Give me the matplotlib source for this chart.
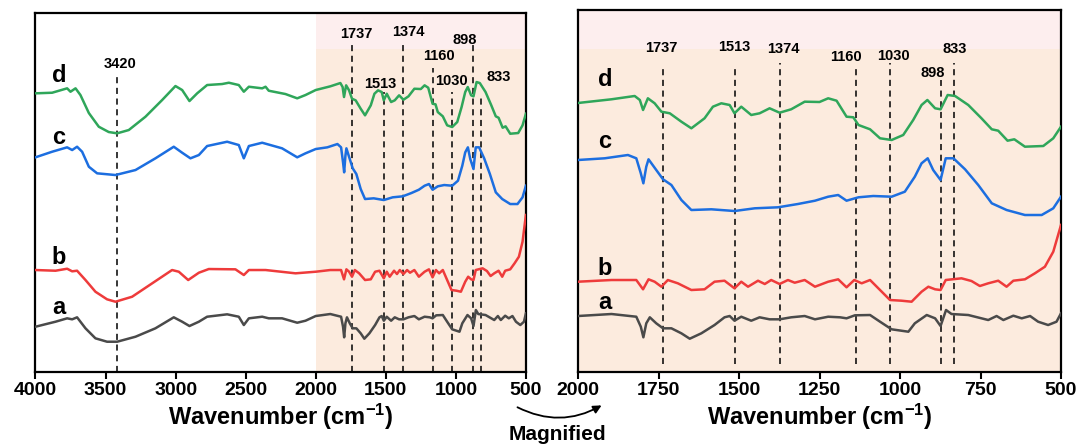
import matplotlib
matplotlib.use("Agg")
import matplotlib.pyplot as plt
from matplotlib.patches import FancyArrowPatch

plt.rcParams['font.family'] = ['Liberation Sans', 'DejaVu Sans']
plt.rcParams['font.weight'] = 'bold'
plt.rcParams['mathtext.default'] = 'regular'

# spectra, wavenumber (cm-1) and relative transmittance (arb. units, offset stacked)
wn_a = [4000, 3857, 3774, 3738, 3703, 3643, 3572, 3489, 3417, 3286, 3144, 3013, 2953, 2901, 2834,
        2775, 2632, 2549, 2513, 2477, 2382, 2335, 2240, 2132, 2073, 2000, 1896, 1819, 1805, 1797,
        1788, 1777, 1757, 1736, 1710, 1679, 1653, 1617, 1576, 1545, 1529, 1514, 1493, 1462, 1436,
        1405, 1374, 1338, 1296, 1264, 1223, 1186, 1166, 1140, 1093, 1062, 1026, 974, 954, 917,
        891, 874, 857, 840, 788, 726, 700, 679, 648, 622, 596, 571, 540, 514, 500]
t_a = [45.3, 50.3, 53.7, 52.7, 54.7, 43.7, 33.7, 30.3, 30.3, 35.3, 43.7, 54.7, 50.3, 46, 50.3,
       55.3, 57.7, 55.3, 47, 53.7, 55.3, 53.7, 53.7, 49.3, 51.3, 56, 58, 55.3, 45.3, 34.7,
       48.7, 54.7, 48.7, 43.7, 43.7, 38.7, 33.3, 38.7, 47, 54.7, 56, 51.3, 55.3, 51.3, 54.7,
       52.7, 52.7, 54.7, 56, 52.7, 55.3, 54.7, 53.7, 56.7, 57, 50.3, 42.7, 40.3, 48.7, 57,
       53.7, 46, 62, 58, 57, 52, 56, 52, 56.3, 53.7, 56, 50.3, 47, 50.3, 58.7]

wn_b = [4000, 3857, 3774, 3738, 3703, 3643, 3572, 3489, 3429, 3310, 3167, 3025, 2977, 2910, 2834,
        2763, 2573, 2513, 2477, 2358, 2144, 2000, 1896, 1819, 1798, 1781, 1762, 1741, 1721, 1690,
        1648, 1607, 1576, 1545, 1514, 1493, 1472, 1441, 1420, 1400, 1374, 1348, 1327, 1296, 1264,
        1223, 1192, 1166, 1142, 1119, 1093, 1062, 1031, 995, 964, 933, 912, 891, 874, 858,
        809, 778, 752, 726, 695, 669, 648, 612, 581, 550, 524, 500]
t_b = [102, 101.3, 103.3, 100.7, 101.3, 92, 80.3, 72.7, 70.3, 75.3, 88.7, 102, 100.3, 92, 99.3,
       103, 102.7, 97, 102, 102, 98.7, 100.3, 102, 102, 92.7, 102.7, 100.3, 95.3, 102, 98.7,
       92, 92.7, 100.3, 101.3, 93.7, 100.3, 95.3, 101.3, 98, 102, 98, 102, 99.3, 102, 95.3,
       100.3, 102.7, 94.7, 102, 98.7, 102, 92, 82, 81.3, 80.3, 90.3, 95.3, 92.7, 92, 102,
       103.7, 101, 96, 98.7, 101.3, 95.3, 101.3, 102.7, 108.7, 115.3, 130.3, 157]

wn_c = [4000, 3881, 3774, 3738, 3703, 3667, 3619, 3560, 3429, 3286, 3144, 3013, 2953, 2894, 2834,
        2775, 2632, 2549, 2513, 2477, 2382, 2240, 2132, 2073, 2000, 1917, 1845, 1819, 1805, 1797,
        1788, 1781, 1757, 1736, 1710, 1679, 1648, 1586, 1514, 1451, 1379, 1317, 1264, 1223, 1192,
        1166, 1129, 1083, 1026, 985, 954, 933, 914, 897, 874, 858, 834, 798, 757, 715,
        669, 612, 560, 524, 500]
t_c = [214.7, 220.3, 224.7, 222, 225.3, 220.3, 205.3, 198.7, 197, 202, 213.7, 225.3, 219.3, 213.7, 217,
       226, 230.3, 227, 213.7, 226, 229.3, 223.7, 214.7, 218.7, 223, 224.7, 228, 224.7, 209.7, 199.7,
       216.3, 223.7, 213, 203.7, 198, 183, 173, 173.7, 172, 174.7, 175.7, 179, 182.3, 186.3, 188,
       182.3, 185.7, 187, 186.3, 191.3, 206.3, 219.7, 224.7, 213, 203, 224.7, 224.7, 213.7, 198, 179.7,
       173, 168, 168, 174.7, 186.3]

wn_d = [4000, 3881, 3774, 3750, 3714, 3679, 3619, 3548, 3477, 3417, 3334, 3215, 3096, 3001, 2953,
        2901, 2846, 2775, 2668, 2620, 2549, 2513, 2477, 2382, 2358, 2335, 2216, 2132, 2073, 2000,
        1896, 1824, 1808, 1798, 1783, 1762, 1741, 1715, 1679, 1648, 1607, 1581, 1555, 1529, 1514,
        1493, 1462, 1436, 1405, 1374, 1338, 1296, 1250, 1223, 1197, 1166, 1145, 1129, 1093, 1062,
        1026, 990, 959, 933, 915, 891, 874, 852, 829, 788, 747, 715, 695, 666, 645,
        612, 555, 524, 500]
t_d = [278.7, 279.3, 283.7, 280.3, 283.7, 277, 259, 245.3, 240, 238.7, 242, 255.3, 272, 286, 282,
       271, 278.7, 287, 288, 289.3, 287, 280.3, 285.3, 283.7, 285.3, 281.3, 278, 273.7, 277, 282,
       285.7, 289, 285, 275, 286.7, 281.7, 273.3, 271.7, 263.3, 256.7, 266.7, 278.3, 281.7, 280, 271.7,
       278.3, 270, 271.7, 276.7, 272.3, 275.7, 283.3, 283, 286.7, 284.3, 268.3, 267.7, 260, 255.7, 246.7,
       245, 250, 265, 280, 285, 276.7, 275.7, 290, 289, 280, 266.7, 255.7, 254.3, 244.3, 245.7,
       238.3, 239, 246.7, 258.3]

names = ['a', 'b', 'c', 'd']
colors = ['#4a4a4a', '#ee3b3b', '#1c6ee0', '#2fa65a']
spectra = [(wn_a, t_a), (wn_b, t_b), (wn_c, t_c), (wn_d, t_d)]
shift_right = [0, -10, -11, -13]

# peak markers
left_peaks = [3420, 1737, 1513, 1374, 1160, 1030, 898, 833]
left_lines = [3420, 1740, 1515, 1374, 1165, 1028, 878, 822]
left_tops = [299, 330, 280, 330, 304, 280, 329, 277]
left_lab_x = [3397, 1708, 1542, 1342, 1121, 1028, 935, 693]
left_lab_y = [308, 338, 288, 340, 316, 291, 332, 295]

right_peaks = [1737, 1513, 1374, 1160, 1030, 898, 833]
right_lines = [1737, 1513, 1374, 1137, 1030, 874, 833]
right_tops = [307, 307, 309, 307, 309, 292, 309]
right_lab_x = [1742, 1515, 1363, 1168, 1019, 900, 829]
right_lab_y = [324, 325, 323, 315, 316, 299, 323]

left_letter_y = [65, 115, 235, 297]
right_letter_y = [70, 104, 230, 292]

peach = '#fcebde'
pink = '#fdeeee'

fig = plt.figure(figsize=(10.81, 4.48), dpi=100)
ax1 = fig.add_axes([0.0328, 0.1696, 0.4537, 0.8013])
ax2 = fig.add_axes([0.5347, 0.1696, 0.4468, 0.8070])

# left panel
ax1.axvspan(2000, 500, color=peach, lw=0, zorder=0)
ax1.axvspan(2000, 500, ymin=0.8997, ymax=1, color=pink, lw=0, zorder=0)
for (wn, t), c in zip(spectra, colors):
    ax1.plot(wn, t, color=c, lw=1.8, zorder=3)
ax1.vlines(left_lines, 0, left_tops, colors='black', linestyles=(0, (4, 3)), lw=1.1, zorder=2)
for p, x, y in zip(left_peaks, left_lab_x, left_lab_y):
    ax1.text(x, y, str(p), ha='center', va='center', fontsize=10.5, fontweight='bold')
for n, y in zip(names, left_letter_y):
    ax1.text(3832, y, n, ha='center', va='center', fontsize=17, fontweight='bold')
ax1.set_xlim(4000, 500)
ax1.set_ylim(0, 359)
ax1.set_xticks([4000, 3500, 3000, 2500, 2000, 1500, 1000, 500])

# right panel (magnified 2000-500 region)
ax2.set_facecolor(peach)
ax2.axvspan(2000, 500, ymin=0.8935, ymax=1, color=pink, lw=0, zorder=0)
for (wn, t), c, s in zip(spectra, colors, shift_right):
    ax2.plot(wn, [v + s for v in t], color=c, lw=1.8, zorder=3)
ax2.vlines(right_lines, 8, right_tops, colors='black', linestyles=(0, (4, 3)), lw=1.1, zorder=2)
for p, x, y in zip(right_peaks, right_lab_x, right_lab_y):
    ax2.text(x, y, str(p), ha='center', va='center', fontsize=10.5, fontweight='bold')
for n, y in zip(names, right_letter_y):
    ax2.text(1916, y, n, ha='center', va='center', fontsize=17, fontweight='bold')
ax2.set_xlim(2000, 500)
ax2.set_ylim(0, 361.5)
ax2.set_xticks([2000, 1750, 1500, 1250, 1000, 750, 500])

for ax in (ax1, ax2):
    ax.set_yticks([])
    for sp in ax.spines.values():
        sp.set_linewidth(1.6)
    ax.tick_params(axis='x', direction='out', length=5, width=1.5, labelsize=14, pad=2)
    for lab in ax.get_xticklabels():
        lab.set_fontweight('bold')
    ax.set_xlabel('Wavenumber (cm$^{-1}$)', fontsize=17, fontweight='bold', labelpad=2)

# "Magnified" arrow between panels
arrow = FancyArrowPatch((515 / 1081, 1 - 406 / 448), (604 / 1081, 1 - 404 / 448),
                        transform=fig.transFigure, connectionstyle='arc3,rad=0.28',
                        arrowstyle='-|>', mutation_scale=12, lw=1.3, color='black')
fig.patches.append(arrow)
fig.text(557 / 1081, 1 - 434 / 448, 'Magnified', ha='center', va='center',
         fontsize=15, fontweight='bold')

fig.savefig('out.png', dpi=100)
